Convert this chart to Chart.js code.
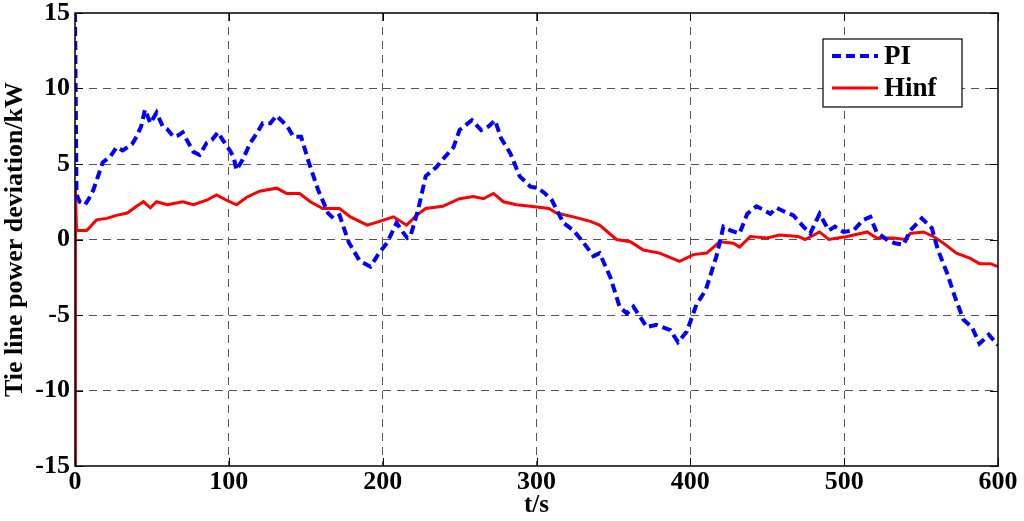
<!DOCTYPE html>
<html>
<head>
<meta charset="utf-8">
<script src="https://cdn.jsdelivr.net/npm/chart.js@4/dist/chart.umd.min.js"></script>
<style>
  html, body { margin: 0; padding: 0; background: #fff; }
  #chart { display: block; }
</style>
</head>
<body>
<canvas id="chart" width="1024" height="521"></canvas>
<script>
// data
const piTimes = [0, 1, 3, 6.5, 9, 12, 15, 18, 23, 27, 31, 34, 37, 40, 43, 45.5, 49, 53, 57, 60, 64, 67, 70, 72.6, 77, 81, 85.6, 89, 93, 96, 100, 103, 105, 109, 114, 118, 122, 127, 131, 135, 138, 142, 147, 152, 158, 164.5, 168, 172, 178, 185, 192, 197, 203, 209, 213, 216, 218, 223, 228, 235, 239, 246, 250, 258, 264, 269, 273, 277, 283, 289, 296, 301, 305, 310, 317.5, 324, 330.5, 337, 341, 348, 354, 358.7, 363, 371.7, 378, 387, 392, 397.7, 404, 410, 417, 421.5, 426, 432, 437, 443, 447, 452, 456, 462, 467, 473.5, 478, 484, 490, 494, 499.5, 506, 512.5, 517, 521, 527.6, 533, 538.6, 543, 550.5, 557, 561, 567, 572, 577.5, 583, 588, 594, 600];
const piValues = [15, 3, 2.5, 2.3, 2.7, 3.3, 4.2, 5.1, 5.5, 6.1, 5.9, 6.1, 6.3, 6.8, 7.5, 8.6, 7.7, 8.4, 7.5, 7.3, 6.8, 6.9, 7.1, 6.6, 5.8, 5.6, 6.4, 6.6, 7.1, 6.6, 6.0, 5.5, 4.6, 5.3, 6.4, 7.0, 7.7, 7.7, 8.2, 7.8, 7.5, 6.8, 6.8, 5.1, 3.3, 1.75, 1.4, 1.6, -0.2, -1.4, -1.8, -1.0, -0.2, 1.1, 0.5, 0.1, 0.2, 1.95, 4.2, 4.8, 5.3, 6.1, 7.25, 7.9, 7.25, 7.5, 7.9, 6.7, 5.7, 4.2, 3.5, 3.4, 3.1, 2.6, 1.1, 0.6, -0.2, -1.1, -0.9, -2.5, -4.45, -4.9, -4.45, -5.8, -5.65, -6.0, -6.8, -6.1, -4.3, -3.35, -1.1, 0.85, 0.6, 0.4, 1.7, 2.2, 2.0, 1.7, 2.1, 1.8, 1.6, 0.85, 0.4, 1.7, 0.6, 0.85, 0.5, 0.6, 1.3, 1.5, 0.5, 0.0, -0.25, -0.35, 0.6, 1.4, 0.75, -0.7, -2.25, -3.8, -5.3, -5.8, -6.9, -6.3, -7.0];

const hinfTimes = [0, 0.3, 1, 7.6, 14, 20.6, 27, 34, 40, 44.5, 49, 53, 60, 70, 77, 85.6, 92, 98.6, 105, 111.6, 120, 131, 137.6, 146, 153, 161, 172, 179, 190, 198, 207, 215.6, 222, 228, 239, 250, 259, 265.5, 272, 278.5, 287, 296, 308, 313, 324, 335, 341, 352, 361, 369.5, 380, 393, 402, 410.7, 419, 428, 432, 439, 450, 458, 470, 474.6, 484, 490, 502, 515, 521, 532, 539.6, 543, 551.5, 558, 564.6, 573, 582, 588, 595, 600];
const hinfValues = [-15, 3.3, 0.6, 0.6, 1.3, 1.4, 1.6, 1.75, 2.2, 2.5, 2.1, 2.5, 2.3, 2.5, 2.3, 2.6, 2.95, 2.6, 2.3, 2.8, 3.2, 3.4, 3.05, 3.05, 2.5, 2.05, 2.05, 1.5, 0.95, 1.2, 1.5, 0.95, 1.6, 2.05, 2.2, 2.7, 2.85, 2.7, 3.05, 2.5, 2.3, 2.2, 2.05, 1.75, 1.5, 1.2, 0.95, 0.0, -0.15, -0.7, -0.9, -1.45, -1.0, -0.9, -0.15, -0.25, -0.5, 0.2, 0.1, 0.3, 0.2, 0.0, 0.5, 0.0, 0.2, 0.5, 0.1, 0.1, 0.0, 0.4, 0.5, 0.2, -0.25, -0.9, -1.25, -1.6, -1.6, -1.8];

const seriesNames = ['PI', 'Hinf'];
const xTicks = [0, 100, 200, 300, 400, 500, 600];
const yTicks = [-15, -10, -5, 0, 5, 10, 15];

const FONT = '"Liberation Serif", "Times New Roman", serif';

function toPoints(ts, vs) {
    return ts.map((t, i) => ({ x: t, y: vs[i] }));
}

// box, inward tick marks and boxed legend like matlab
const framePlugin = {
    id: 'frame',
    afterDatasetsDraw(chart) {
        const ctx = chart.ctx;
        const a = chart.chartArea;
        const xs = chart.scales.x, ys = chart.scales.y;
        ctx.save();
        ctx.strokeStyle = '#000';
        ctx.lineWidth = 1;
        ctx.beginPath();
        xTicks.forEach(v => {
            const px = Math.round(xs.getPixelForValue(v)) + 0.5;
            ctx.moveTo(px, a.bottom); ctx.lineTo(px, a.bottom - 8);
            ctx.moveTo(px, a.top); ctx.lineTo(px, a.top + 8);
        });
        yTicks.forEach(v => {
            const py = Math.round(ys.getPixelForValue(v)) + 0.5;
            ctx.moveTo(a.left, py); ctx.lineTo(a.left + 8, py);
            ctx.moveTo(a.right, py); ctx.lineTo(a.right - 8, py);
        });
        ctx.stroke();
        ctx.lineWidth = 1.5;
        ctx.strokeRect(a.left, a.top, a.right - a.left, a.bottom - a.top);

        // legend
        const bx = a.right - 175, by = a.top + 26, bw = 139, bh = 68;
        ctx.fillStyle = '#fff';
        ctx.fillRect(bx, by, bw, bh);
        ctx.lineWidth = 1.2;
        ctx.strokeRect(bx, by, bw, bh);
        chart.data.datasets.forEach((ds, i) => {
            const ly = by + 17 + i * 32;
            ctx.beginPath();
            ctx.strokeStyle = ds.borderColor;
            ctx.lineWidth = ds.borderWidth;
            ctx.setLineDash(ds.borderDash || []);
            ctx.moveTo(bx + 9, ly);
            ctx.lineTo(bx + 55, ly);
            ctx.stroke();
            ctx.setLineDash([]);
            ctx.fillStyle = '#000';
            ctx.font = 'bold 27px ' + FONT;
            ctx.textBaseline = 'middle';
            ctx.fillText(ds.label, bx + 61, ly + 1);
        });
        ctx.restore();
    }
};

const ctx = document.getElementById('chart').getContext('2d');
new Chart(ctx, {
    type: 'line',
    data: {
        datasets: [{
            label: seriesNames[0],
            data: toPoints(piTimes, piValues),
            borderColor: '#0000ff',
            borderWidth: 4,
            borderDash: [9, 5],
            pointRadius: 0,
            tension: 0,
            fill: false
        }, {
            label: seriesNames[1],
            data: toPoints(hinfTimes, hinfValues),
            borderColor: '#ff0000',
            borderWidth: 3,
            pointRadius: 0,
            tension: 0,
            fill: false
        }]
    },
    options: {
        responsive: false,
        animation: false,
        layout: { padding: { top: 13, right: 26, left: 0, bottom: 0 } },
        plugins: {
            legend: { display: false },
            tooltip: { enabled: false }
        },
        scales: {
            x: {
                type: 'linear',
                min: 0,
                max: 600,
                afterBuildTicks(scale) { scale.ticks = xTicks.map(v => ({ value: v })); },
                afterFit(scale) {
                    scale.height = 55;
                    scale.paddingLeft = 0;
                    scale.paddingRight = 0;
                },
                border: { display: false, dash: [8, 6] },
                grid: {
                    color: c => (c.tick && (c.tick.value === 0 || c.tick.value === 600)) ? 'rgba(0,0,0,0)' : '#555',
                    lineWidth: 1,
                    drawTicks: false
                },
                ticks: {
                    color: '#000',
                    padding: 1,
                    maxRotation: 0,
                    font: { family: FONT, size: 26, weight: 'bold' }
                },
                title: {
                    display: true,
                    text: 't/s',
                    color: '#000',
                    padding: { top: 0, bottom: 0 },
                    font: { family: FONT, size: 25, weight: 'bold' }
                }
            },
            y: {
                type: 'linear',
                min: -15,
                max: 15,
                afterBuildTicks(scale) { scale.ticks = yTicks.map(v => ({ value: v })); },
                afterFit(scale) {
                    scale.width = 75;
                    scale.paddingTop = 0;
                    scale.paddingBottom = 0;
                },
                border: { display: false, dash: [8, 6] },
                grid: {
                    color: c => (c.tick && (c.tick.value === -15 || c.tick.value === 15)) ? 'rgba(0,0,0,0)' : '#555',
                    lineWidth: 1,
                    drawTicks: false
                },
                ticks: {
                    color: '#000',
                    padding: 5,
                    font: { family: FONT, size: 26, weight: 'bold' }
                },
                title: {
                    display: true,
                    text: 'Tie line power deviation/kW',
                    color: '#000',
                    padding: { top: 0, bottom: 0 },
                    font: { family: FONT, size: 26, weight: 'bold' }
                }
            }
        }
    },
    plugins: [framePlugin]
});
</script>
</body>
</html>
